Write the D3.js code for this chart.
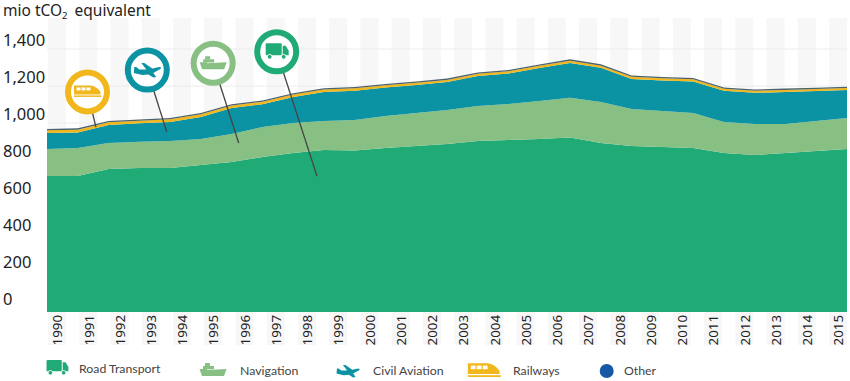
<!DOCTYPE html>
<html><head><meta charset="utf-8">
<script src="https://cdn.jsdelivr.net/npm/d3@7/dist/d3.min.js"></script>
<style>
html,body{margin:0;padding:0;background:#fff}
svg{display:block}
text{font-family:"Noto Sans",sans-serif}
</style></head><body>
<svg id="c" width="850" height="381"></svg>
<script>
const years = d3.range(1990, 2016);
const yTicks = [0, 200, 400, 600, 800, 1000, 1200, 1400];
// values sampled along the drawn curve, left edge to right edge
const road = [714,714,751,757,757,773,789,816,838,854,851,865,876,886,903,908,914,922,892,876,870,865,838,827,838,849,859];
const navigation = [146,151,141,141,146,141,151,162,162,157,165,173,178,184,189,195,205,214,222,200,195,189,168,168,157,162,168];
const aviation = [86,84,97,100,103,119,141,124,141,157,159,154,151,151,162,165,178,189,184,162,165,170,168,168,173,162,151];
const railways = [15,15,15,14,14,14,14,13,13,13,13,12,12,12,12,12,12,12,12,12,12,12,11,11,11,11,11];
const other = [7,7,7,7,7,7,7,7,7,7,7,7,7,7,7,7,7,7,7,7,7,7,7,7,7,7,7];
const seriesNames = ["Road Transport","Navigation","Civil Aviation","Railways","Other"];

const colors = {"Road Transport":"#20aa76","Navigation":"#88bf83","Civil Aviation":"#0b93a3","Railways":"#f1b71c","Other":"#1558a6"};
const areaColors = Object.assign({}, colors, {"Other":"#4d626c"});
const svg = d3.select("#c");

const y = d3.scaleLinear().domain([0,1400]).range([308,49]);
const xPos = d3.scaleLinear().domain([0,26]).range([47,847]);
const xYear = d3.scalePoint().domain(years).range([57,838]);

// stripes
svg.append("g").selectAll("rect").data(years).join("rect")
  .attr("x", d => xYear(d)-9).attr("width",18)
  .attr("y",18).attr("height",327).attr("fill","#f7f7f7");

// grid
svg.append("g").selectAll("line").data(yTicks).join("line")
  .attr("x1",47).attr("x2",847)
  .attr("y1",d=>y(d)).attr("y2",d=>y(d))
  .attr("stroke","#ececec").attr("stroke-width",1);

// stack
const rows = d3.range(road.length).map(i => ({i,
  "Road Transport":road[i],"Navigation":navigation[i],"Civil Aviation":aviation[i],"Railways":railways[i],"Other":other[i]}));
const stacked = d3.stack().keys(seriesNames)(rows);
const area = d3.area().x(d=>xPos(d.data.i))
  .y0(d=> d[0]===0 ? y(0)+4 : y(d[0])).y1(d=>y(d[1]));
svg.append("g").selectAll("path").data(stacked).join("path")
  .attr("d",area).attr("fill",d=>areaColors[d.key]);

// y axis
const gy = svg.append("g").attr("transform","translate(47,0)")
  .call(d3.axisLeft(y).tickValues(yTicks).tickSize(0).tickFormat(d3.format(",")));
gy.select(".domain").remove();
gy.selectAll("text").attr("text-anchor","start").attr("x",-44).attr("y",0).attr("dy","-3.5")
  .style("font-size","16.5px").attr("fill","#222");

// x axis
const gx = svg.append("g").attr("transform","translate(0,312)")
  .call(d3.axisBottom(xYear).tickSize(0).tickFormat(d3.format("d")));
gx.select(".domain").remove();
gx.selectAll("text").attr("transform","rotate(-90)")
  .attr("text-anchor","end").attr("x",-3).attr("y",0).attr("dy","0.36em")
  .style("font-size","13.3px").attr("fill","#222");

// title
const t = svg.append("text").attr("x",3).attr("y",16).attr("fill","#222").style("font-size","15.5px");
t.append("tspan").text("mio tCO");
t.append("tspan").text("2").attr("dy",3).style("font-size","9.5px");
t.append("tspan").text("equivalent").attr("dy",-3).attr("dx",7);

// icons
function icon(g,name,c){
  if(name==="Road Transport"){
    g.append("rect").attr("x",-11).attr("y",-8.5).attr("width",16).attr("height",12).attr("rx",1).attr("fill",c);
    g.append("path").attr("d","M6,-6 L9,-6 L12,-1 L12,3.5 L6,3.5 Z").attr("fill",c);
    [[-7,5],[7,5]].forEach(p=>g.append("circle").attr("cx",p[0]).attr("cy",p[1]).attr("r",2.4)
      .attr("fill",c).attr("stroke","#fff").attr("stroke-width",.9));
  } else if(name==="Navigation"){
    g.append("path").attr("d","M-13.5,-1 L-6,-1 L-6,0 L13.5,-1 L11,6 L-11,6 Z").attr("fill",c);
    g.append("rect").attr("x",-10).attr("y",-4).attr("width",11).attr("height",3.2).attr("fill",c);
    g.append("rect").attr("x",-8).attr("y",-7).attr("width",5).attr("height",3).attr("fill",c);
  } else if(name==="Civil Aviation"){
    g.append("path").attr("d","M-13.5,3 L-13,-3 L-11,-3 L-8,-0.5 L-1,-0.5 L-6,-7 L-3,-7 L5,-1.5 L12,-3 Q15,-3 13,-1 L6,3 L9,7 L6,7.5 L1,4.5 L-5,5 Z").attr("fill",c);
  } else if(name==="Railways"){
    g.append("path").attr("d","M-13.5,-6.5 L3,-6.5 Q9,-6 13,0 L13,2.5 L-13.5,2.5 Z").attr("fill",c);
    [-11,-6,-1].forEach(wx=>g.append("rect").attr("x",wx).attr("y",-4.5).attr("width",4).attr("height",3).attr("fill","#fff"));
    g.append("rect").attr("x",-13.5).attr("y",3.5).attr("width",27.5).attr("height",1.5).attr("fill",c);
  }
}

// callouts: anchored through the chart's scales
const pins = [
  {key:"Railways",      head:[1.316,1168], tip:[1.59,978]},
  {key:"Civil Aviation",head:[3.26,1286],  tip:[3.89,953]},
  {key:"Navigation",    head:[5.4,1323],   tip:[6.23,892]},
  {key:"Road Transport",head:[7.465,1385], tip:[8.775,713]}
];
const pg = svg.append("g");
pins.forEach(p=>{
  const cx=xPos(p.head[0]), cy=y(p.head[1]);
  pg.append("line").attr("x1",cx).attr("y1",cy).attr("x2",xPos(p.tip[0])).attr("y2",y(p.tip[1]))
    .attr("stroke","#444").attr("stroke-width",1.3);
  pg.append("circle").attr("cx",cx).attr("cy",cy).attr("r",19.5)
    .attr("fill","#fff").attr("stroke",colors[p.key]).attr("stroke-width",6);
  icon(pg.append("g").attr("transform",`translate(${cx},${cy})`),p.key,colors[p.key]);
});

// legend
const legend = [
  {key:"Road Transport",ix:57,iy:368,s:.95,tx:79,ty:373},
  {key:"Navigation",ix:213,iy:370,s:1,tx:240,ty:375},
  {key:"Civil Aviation",ix:348,iy:371,s:.85,tx:373,ty:375},
  {key:"Railways",ix:484,iy:371,s:1.2,tx:513,ty:375},
  {key:"Other",ix:606.7,iy:371,s:1,tx:624,ty:375}
];
const lg = svg.append("g");
legend.forEach(l=>{
  if(l.key==="Other"){
    lg.append("circle").attr("cx",l.ix).attr("cy",l.iy).attr("r",7).attr("fill",colors.Other);
  } else {
    icon(lg.append("g").attr("transform",`translate(${l.ix},${l.iy}) scale(${l.s})`),l.key,colors[l.key]);
  }
  lg.append("text").attr("x",l.tx).attr("y",l.ty).text(l.key).attr("fill","#444")
    .style("font-family","Lato, sans-serif").style("font-size","12.3px");
});
</script>
</body></html>
